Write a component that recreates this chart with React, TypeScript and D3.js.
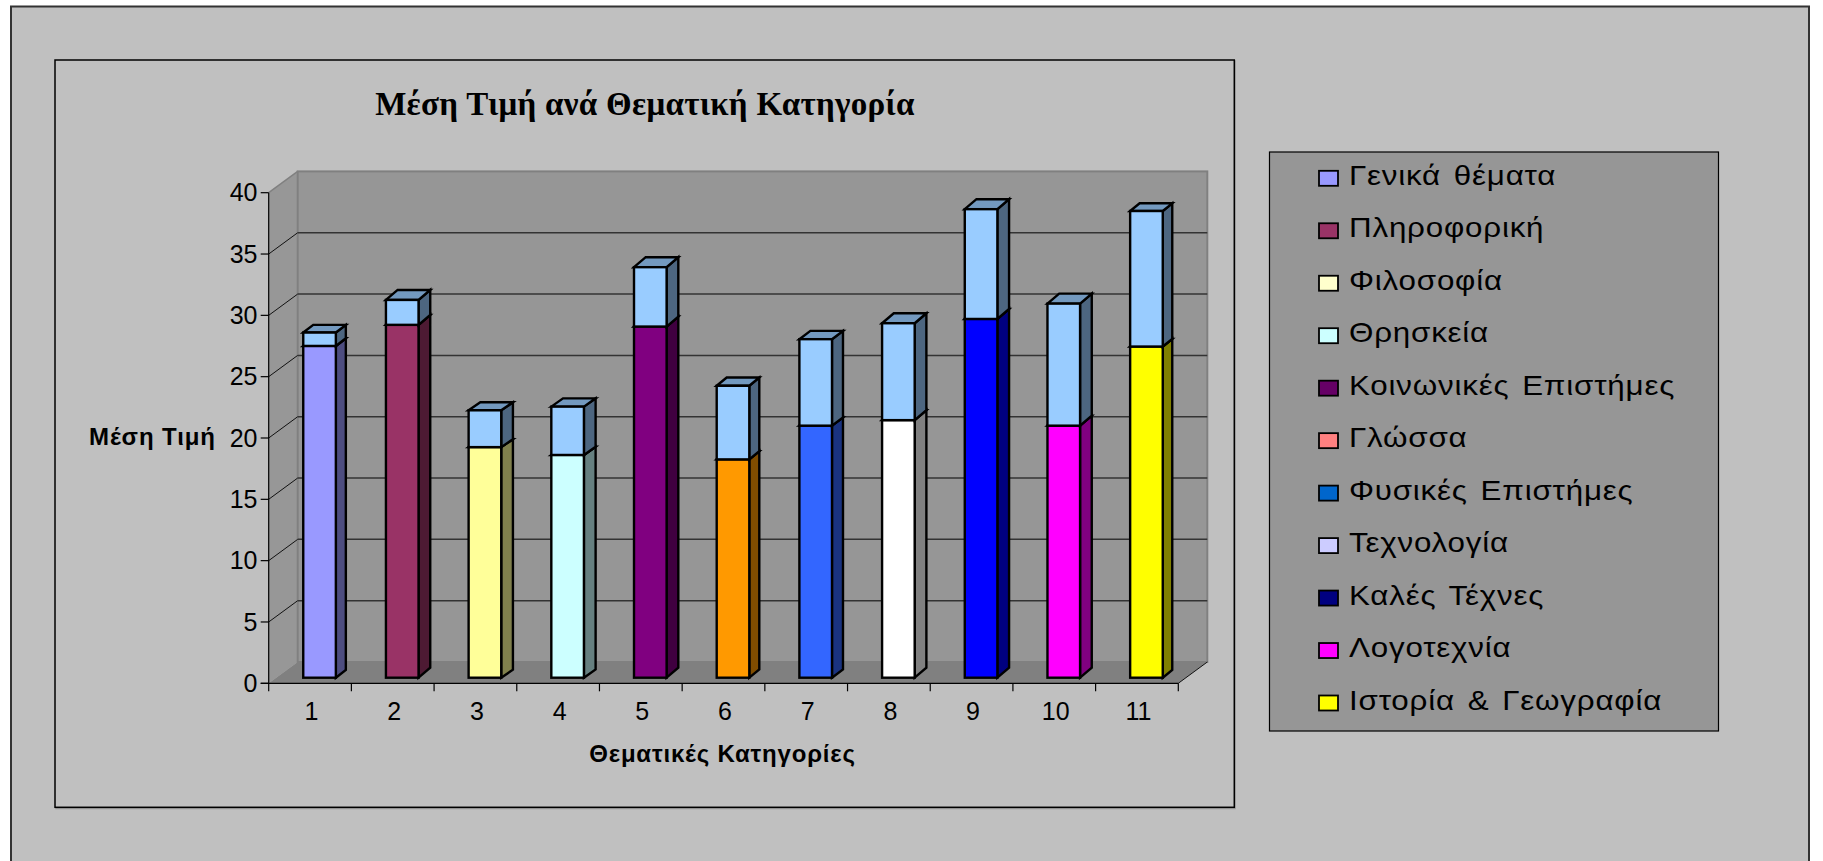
import React from "react";
import * as d3 from "d3";

const categories = ["1", "2", "3", "4", "5", "6", "7", "8", "9", "10", "11"];
const lowerValues = [27.05, 28.77, 18.8, 18.16, 28.63, 17.8, 20.55, 21.0, 29.25, 20.55, 27.0];
const upperValues = [1.09, 2.03, 3.0, 3.94, 4.84, 6.0, 7.05, 7.9, 8.95, 9.95, 11.05];
const barColors = ["#9999FF", "#993366", "#FFFF99", "#CCFFFF", "#800080", "#FF9900", "#3366FF", "#FFFFFF", "#0000FF", "#FF00FF", "#FFFF00"];
const upperColor = "#99CCFF";
const legendLabels = ["Γενικά θέματα", "Πληροφορική", "Φιλοσοφία", "Θρησκεία", "Κοινωνικές Επιστήμες", "Γλώσσα", "Φυσικές Επιστήμες", "Τεχνολογία", "Καλές Τέχνες", "Λογοτεχνία", "Ιστορία & Γεωγραφία"];
const legendColors = ["#9999FF", "#993366", "#FFFFCC", "#CCFFFF", "#660066", "#FF8080", "#0066CC", "#CCCCFF", "#000080", "#FF00FF", "#FFFF00"];
const yTicks = [0, 5, 10, 15, 20, 25, 30, 35, 40];

const W = 1823, H = 861;
const x0 = 268.7, x1 = 1178.3, yBase = 683.3, yTop = 192.7;
const depthX = 29, depthY = 21.3;
const barW = 32.6, barShift = 9.5, barLift = 5.6;
// the reference's rasteriser rounds each bar's depth differently
const depthXByBar = [10, 11.7, 11.7, 11.7, 11.7, 10, 11, 11.7, 11.7, 11.7, 9.5];
const depthYByBar = [7.7, 10, 8, 8.3, 10, 8.3, 8.3, 10, 10, 10, 7.7];

const x = d3.scaleBand<string>().domain(categories).range([x0, x1]);
const y = d3.scaleLinear().domain([0, 40]).range([yBase, yTop]);
const legendY = d3.scalePoint<string>().domain(legendLabels).range([178.3, 703]);

const shade = (c: string, k: number) => {
  const r = d3.rgb(c);
  return d3.rgb(r.r * k, r.g * k, r.b * k).formatHex();
};
const line = d3.line();
const poly = (pts: [number, number][]) => line(pts)! + "Z";

function Box({ xA, xB, v0, v1, color, dx, dy }: { xA: number; xB: number; v0: number; v1: number; color: string; dx: number; dy: number }) {
  const yA = y(v0) - barLift;
  const yB = y(v1) - barLift;
  return (
    <g stroke="#000" strokeWidth={2.4} strokeLinejoin="miter">
      <path d={poly([[xB, yA], [xB + dx, yA - dy], [xB + dx, yB - dy], [xB, yB]])} fill={shade(color, 0.5)} />
      <path d={poly([[xA, yB], [xA + dx, yB - dy], [xB + dx, yB - dy], [xB, yB]])} fill={shade(color, 0.75)} />
      <rect x={xA} y={yB} width={xB - xA} height={yA - yB} fill={color} />
    </g>
  );
}

export default function App() {
  const sans = "'Liberation Sans', Arial, sans-serif";
  const serif = "'Liberation Serif', 'Times New Roman', serif";
  const backX = x0 + depthX, backRight = x1 + depthX;
  return (
    <svg width={W} height={H} viewBox={`0 0 ${W} ${H}`} style={{ position: "absolute", left: 0, top: 0, display: "block" }}>
      <rect width={W} height={H} fill="#fff" />
      <rect x={11} y={6.5} width={1798} height={H + 20} fill="#C0C0C0" stroke="#333" strokeWidth={2} />
      <rect x={56} y={61} width={1179} height={747.5} fill="none" stroke="#999" strokeWidth={1.5} />
      <rect x={55} y={60} width={1179.3} height={747.3} fill="#C0C0C0" stroke="#000" strokeWidth={1.5} />

      <text x={645} y={114.5} textAnchor="middle" fontFamily={serif} fontWeight="bold" fontSize={33} letterSpacing={0.3} fill="#000">Μέση Τιμή ανά Θεματική Κατηγορία</text>

      {/* walls and floor */}
      <path d={poly([[x0, yBase], [backX, yBase - depthY], [backX, yTop - depthY], [x0, yTop]])} fill="#979797" />
      <rect x={backX} y={yTop - depthY} width={x1 - x0} height={yBase - yTop} fill="#969696" stroke="#808080" strokeWidth={2} />
      <path d={poly([[x0, yBase], [backX, yBase - depthY], [backRight, yBase - depthY], [x1, yBase]])} fill="#808080" />
      <path d={line([[x0, yTop], [backX, yTop - depthY]])!} stroke="#808080" strokeWidth={1.5} fill="none" />

      {/* gridlines */}
      {yTicks.filter(t => t > 0 && t < 40).map(t => (
        <g key={t} fill="none">
          <path d={line([[x0, y(t)], [backX, y(t) - depthY]])!} stroke="#111" strokeWidth={1} />
          <path d={line([[backX, y(t) - depthY], [backRight, y(t) - depthY]])!} stroke="#333" strokeWidth={1.5} />
        </g>
      ))}
      <path d={line([[x1, yBase], [backRight, yBase - depthY]])!} stroke="#111" strokeWidth={1} fill="none" />

      {/* axes */}
      <path d={line([[x0, yTop], [x0, yBase + 8]])!} stroke="#000" strokeWidth={1.2} fill="none" />
      <path d={line([[x0 - 8, yBase], [x1, yBase]])!} stroke="#000" strokeWidth={1.2} fill="none" />
      {yTicks.map(t => (
        <g key={t}>
          <path d={line([[x0 - 8, y(t)], [x0, y(t)]])!} stroke="#000" strokeWidth={1.2} />
          <text x={257.5} y={y(t) + 8.6} textAnchor="end" fontFamily={sans} fontSize={25} fill="#000">{t}</text>
        </g>
      ))}
      {categories.map(c => (
        <g key={c}>
          <path d={line([[x(c)! + x.bandwidth(), yBase], [x(c)! + x.bandwidth(), yBase + 8]])!} stroke="#000" strokeWidth={1.2} />
          <text x={x(c)! + x.bandwidth() / 2 + 1.5} y={720} textAnchor="middle" fontFamily={sans} fontSize={25} fill="#000">{c}</text>
        </g>
      ))}

      {/* bars */}
      {categories.map((c, i) => {
        const xA = x(c)! + x.bandwidth() / 2 + barShift - barW / 2;
        const xB = xA + barW;
        const dx = depthXByBar[i], dy = depthYByBar[i];
        return (
          <g key={c}>
            <Box xA={xA} xB={xB} v0={0} v1={lowerValues[i]} color={barColors[i]} dx={dx} dy={dy} />
            <Box xA={xA} xB={xB} v0={lowerValues[i]} v1={lowerValues[i] + upperValues[i]} color={upperColor} dx={dx} dy={dy} />
          </g>
        );
      })}

      <text x={89} y={445} fontFamily={sans} fontWeight="bold" fontSize={24} letterSpacing={0.9} fill="#000">Μέση Τιμή</text>
      <text x={722.5} y={762} textAnchor="middle" fontFamily={sans} fontWeight="bold" fontSize={24} letterSpacing={0.8} fill="#000">Θεματικές Κατηγορίες</text>

      {/* legend */}
      <rect x={1269.5} y={152} width={449} height={579} fill="#969696" stroke="#000" strokeWidth={1.2} />
      {legendLabels.map((l, i) => (
        <g key={l}>
          <rect x={1319} y={legendY(l)! - 7.5} width={19} height={15} fill={legendColors[i]} stroke="#000" strokeWidth={1.8} />
          <text transform={`translate(1349,${legendY(l)! + 6.5}) scale(1.12,1)`} fontFamily={sans} fontSize={28} letterSpacing={0.7} wordSpacing={3} fill="#000">{l}</text>
        </g>
      ))}
    </svg>
  );
}
